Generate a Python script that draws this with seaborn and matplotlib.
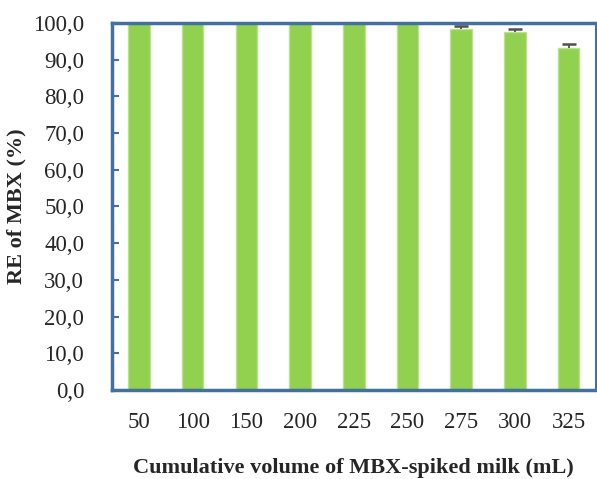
import matplotlib
matplotlib.use("Agg")
import matplotlib.pyplot as plt
import seaborn as sns
import pandas as pd
import numpy as np
from matplotlib.ticker import FuncFormatter

categories = ["50", "100", "150", "200", "225", "250", "275", "300", "325"]
values = [100.0, 100.0, 100.0, 100.0, 100.0, 100.0, 98.3, 97.5, 93.3]
errors = [0.0, 0.0, 0.0, 0.0, 0.0, 0.0, 0.8, 0.9, 0.9]

df = pd.DataFrame({"vol": categories, "re": values})

sns.set_style("white")
plt.rcParams['font.family'] = ['Liberation Serif', 'DejaVu Serif']

fig = plt.figure(figsize=(5.97, 4.79), dpi=100)
ax = fig.add_axes([0.1876, 0.186, 0.81, 0.766])

sns.barplot(data=df, x="vol", y="re", color="#92D050", width=0.40,
            edgecolor="#B9E28E", linewidth=1.0, saturation=1, ax=ax, errorbar=None)
x = np.arange(len(categories))
v = np.array(values)
e = np.array(errors)
m = e > 0
ax.vlines(x[m], v[m], v[m] + e[m], color="#505050", linewidth=1.3, zorder=4)
ax.scatter(x[m], v[m] + e[m], marker="_", s=110, linewidths=1.8, color="#505050", zorder=4)

ax.set_xlim(-0.5, len(categories) - 0.5)
ax.set_ylim(0, 100)
ax.set_yticks(np.arange(0, 101, 10))
ax.yaxis.set_major_formatter(FuncFormatter(lambda val, p: f"{val:.1f}".replace(".", ",")))

spine_col = "#41719C"
for s in ax.spines.values():
    s.set_visible(True)
    s.set_color(spine_col)
    s.set_linewidth(2.5)
ax.spines["right"].set_linewidth(1.5)

ax.set_xticks(x)
ax.set_xticklabels(categories)
ax.tick_params(axis="x", length=0, labelsize=16.5, pad=16)
ax.set_xticks(np.arange(0.5, len(categories) - 1, 1), minor=True)
ax.tick_params(axis="x", which="minor", direction="in", length=5, width=2, color=spine_col)
ax.tick_params(axis="y", direction="in", length=5, width=1.5, color=spine_col,
               labelsize=16.5, left=True, pad=20)

ax.set_xlabel("Cumulative volume of MBX-spiked milk (mL)", fontsize=16,
              fontweight="bold", labelpad=18)
ax.set_ylabel("RE of MBX (%)", fontsize=16, fontweight="bold", labelpad=5)

fig.savefig("out.png", dpi=100)
